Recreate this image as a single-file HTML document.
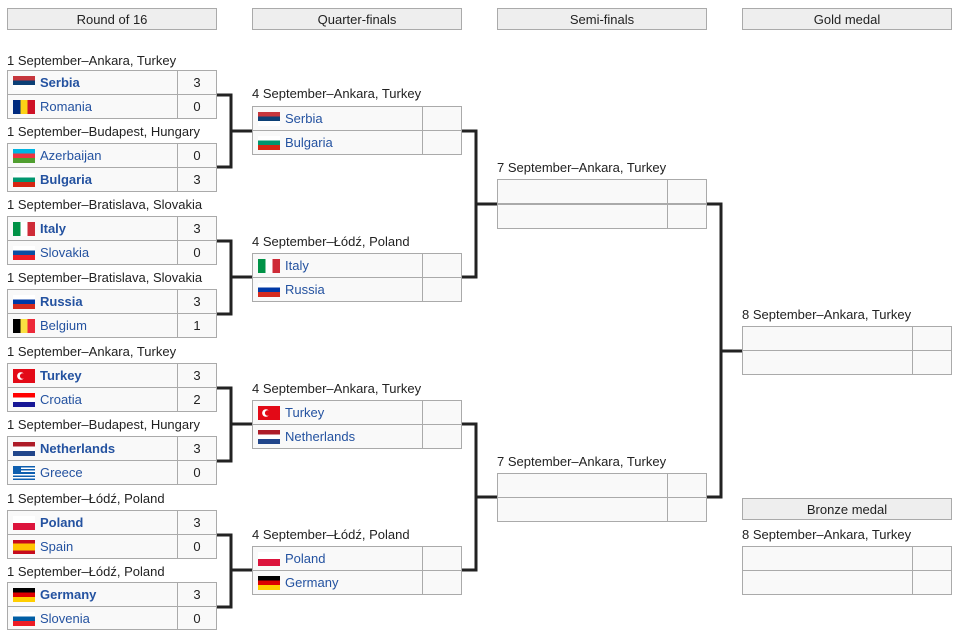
<!DOCTYPE html>
<html><head><meta charset="utf-8">
<style>
body{margin:0;width:960px;height:634px;background:#fff;font-family:"Liberation Sans",sans-serif;font-size:13px;color:#222;position:relative;overflow:hidden}
.h{position:absolute;top:8px;width:208px;height:20px;border:1px solid #aaa;background:#eee;text-align:center;line-height:21px;font-size:13px}
.l{position:absolute;font-size:13px;white-space:nowrap;line-height:15px}
.r{position:absolute;width:208px;height:23px;border:1px solid #aaa;background:#f9f9f9;line-height:24px;color:#2452a0}
.r .s{position:absolute;right:0;top:0;width:38px;height:23px;border-left:1px solid #aaa;text-align:center;color:#222;font-weight:normal}
.r .n{position:absolute;left:32px;top:0}
.r .f{position:absolute;left:5px;top:5px;width:22px;height:14px}
.b .n{font-weight:bold}
svg{position:absolute;left:0;top:0}
</style></head><body>
<div class="h" style="left:7px">Round of 16</div>
<div class="h" style="left:252px">Quarter-finals</div>
<div class="h" style="left:497px">Semi-finals</div>
<div class="h" style="left:742px">Gold medal</div>
<div class="h" style="left:742px;top:498px">Bronze medal</div>

<!-- R16 -->
<div class="l" style="left:7px;top:53px">1 September–Ankara, Turkey</div>
<div class="r b" style="left:7px;top:70px"><span class="f" style="background:linear-gradient(#c6363c 33%,#0c4076 33% 66%,#fff 66%)"></span><span class="n">Serbia</span><span class="s">3</span></div>
<div class="r" style="left:7px;top:94px"><span class="f" style="background:linear-gradient(90deg,#002b7f 33%,#fcd116 33% 66%,#ce1126 66%)"></span><span class="n">Romania</span><span class="s">0</span></div>

<div class="l" style="left:7px;top:124px">1 September–Budapest, Hungary</div>
<div class="r" style="left:7px;top:143px"><span class="f" style="background:linear-gradient(#00b5e2 33%,#ef3340 33% 66%,#509e2f 66%)"></span><span class="n">Azerbaijan</span><span class="s">0</span></div>
<div class="r b" style="left:7px;top:167px"><span class="f" style="background:linear-gradient(#fff 33%,#00966e 33% 66%,#d62612 66%)"></span><span class="n">Bulgaria</span><span class="s">3</span></div>

<div class="l" style="left:7px;top:197px">1 September–Bratislava, Slovakia</div>
<div class="r b" style="left:7px;top:216px"><span class="f" style="background:linear-gradient(90deg,#009246 33%,#fff 33% 66%,#ce2b37 66%)"></span><span class="n">Italy</span><span class="s">3</span></div>
<div class="r" style="left:7px;top:240px"><span class="f" style="background:linear-gradient(#fff 33%,#0b4ea2 33% 66%,#ee1c25 66%)"></span><span class="n">Slovakia</span><span class="s">0</span></div>

<div class="l" style="left:7px;top:270px">1 September–Bratislava, Slovakia</div>
<div class="r b" style="left:7px;top:289px"><span class="f" style="background:linear-gradient(#fff 33%,#0039a6 33% 66%,#d52b1e 66%)"></span><span class="n">Russia</span><span class="s">3</span></div>
<div class="r" style="left:7px;top:313px"><span class="f" style="background:linear-gradient(90deg,#000 33%,#fae042 33% 66%,#ed2939 66%)"></span><span class="n">Belgium</span><span class="s">1</span></div>

<div class="l" style="left:7px;top:344px">1 September–Ankara, Turkey</div>
<div class="r b" style="left:7px;top:363px"><span class="f" style="background:radial-gradient(circle at 44% 50%,#e30a17 0 2.5px,transparent 3px),radial-gradient(circle at 36% 50%,#fff 0 3.5px,transparent 4px),#e30a17"></span><span class="n">Turkey</span><span class="s">3</span></div>
<div class="r" style="left:7px;top:387px"><span class="f" style="background:linear-gradient(#ff0000 33%,#fff 33% 66%,#171796 66%)"></span><span class="n">Croatia</span><span class="s">2</span></div>

<div class="l" style="left:7px;top:417px">1 September–Budapest, Hungary</div>
<div class="r b" style="left:7px;top:436px"><span class="f" style="background:linear-gradient(#ae1c28 33%,#fff 33% 66%,#21468b 66%)"></span><span class="n">Netherlands</span><span class="s">3</span></div>
<div class="r" style="left:7px;top:460px"><span class="f" style="background:linear-gradient(90deg,#0d5eaf 8px,transparent 8px) 0 0/22px 8px no-repeat,repeating-linear-gradient(#0d5eaf 0 1.6px,#fff 1.6px 3.1px)"></span><span class="n">Greece</span><span class="s">0</span></div>

<div class="l" style="left:7px;top:491px">1 September–Łódź, Poland</div>
<div class="r b" style="left:7px;top:510px"><span class="f" style="background:linear-gradient(#fff 50%,#dc143c 50%)"></span><span class="n">Poland</span><span class="s">3</span></div>
<div class="r" style="left:7px;top:534px"><span class="f" style="background:linear-gradient(#c60b1e 25%,#ffc400 25% 75%,#c60b1e 75%)"></span><span class="n">Spain</span><span class="s">0</span></div>

<div class="l" style="left:7px;top:564px">1 September–Łódź, Poland</div>
<div class="r b" style="left:7px;top:582px"><span class="f" style="background:linear-gradient(#000 33%,#dd0000 33% 66%,#ffce00 66%)"></span><span class="n">Germany</span><span class="s">3</span></div>
<div class="r" style="left:7px;top:606px;height:22px"><span class="f" style="background:linear-gradient(#fff 33%,#005da4 33% 66%,#ed1c24 66%)"></span><span class="n">Slovenia</span><span class="s" style="height:22px">0</span></div>

<!-- QF -->
<div class="l" style="left:252px;top:86px">4 September–Ankara, Turkey</div>
<div class="r" style="left:252px;top:106px"><span class="f" style="background:linear-gradient(#c6363c 33%,#0c4076 33% 66%,#fff 66%)"></span><span class="n">Serbia</span><span class="s"></span></div>
<div class="r" style="left:252px;top:130px"><span class="f" style="background:linear-gradient(#fff 33%,#00966e 33% 66%,#d62612 66%)"></span><span class="n">Bulgaria</span><span class="s"></span></div>

<div class="l" style="left:252px;top:234px">4 September–Łódź, Poland</div>
<div class="r" style="left:252px;top:253px"><span class="f" style="background:linear-gradient(90deg,#009246 33%,#fff 33% 66%,#ce2b37 66%)"></span><span class="n">Italy</span><span class="s"></span></div>
<div class="r" style="left:252px;top:277px"><span class="f" style="background:linear-gradient(#fff 33%,#0039a6 33% 66%,#d52b1e 66%)"></span><span class="n">Russia</span><span class="s"></span></div>

<div class="l" style="left:252px;top:381px">4 September–Ankara, Turkey</div>
<div class="r" style="left:252px;top:400px"><span class="f" style="background:radial-gradient(circle at 44% 50%,#e30a17 0 2.5px,transparent 3px),radial-gradient(circle at 36% 50%,#fff 0 3.5px,transparent 4px),#e30a17"></span><span class="n">Turkey</span><span class="s"></span></div>
<div class="r" style="left:252px;top:424px"><span class="f" style="background:linear-gradient(#ae1c28 33%,#fff 33% 66%,#21468b 66%)"></span><span class="n">Netherlands</span><span class="s"></span></div>

<div class="l" style="left:252px;top:527px">4 September–Łódź, Poland</div>
<div class="r" style="left:252px;top:546px"><span class="f" style="background:linear-gradient(#fff 50%,#dc143c 50%)"></span><span class="n">Poland</span><span class="s"></span></div>
<div class="r" style="left:252px;top:570px"><span class="f" style="background:linear-gradient(#000 33%,#dd0000 33% 66%,#ffce00 66%)"></span><span class="n">Germany</span><span class="s"></span></div>

<!-- SF -->
<div class="l" style="left:497px;top:160px">7 September–Ankara, Turkey</div>
<div class="r" style="left:497px;top:179px"><span class="s"></span></div>
<div class="r" style="left:497px;top:204px"><span class="s"></span></div>
<div class="l" style="left:497px;top:454px">7 September–Ankara, Turkey</div>
<div class="r" style="left:497px;top:473px"><span class="s"></span></div>
<div class="r" style="left:497px;top:497px"><span class="s"></span></div>

<!-- Final -->
<div class="l" style="left:742px;top:307px">8 September–Ankara, Turkey</div>
<div class="r" style="left:742px;top:326px"><span class="s"></span></div>
<div class="r" style="left:742px;top:350px"><span class="s"></span></div>
<div class="l" style="left:742px;top:527px">8 September–Ankara, Turkey</div>
<div class="r" style="left:742px;top:546px"><span class="s"></span></div>
<div class="r" style="left:742px;top:570px"><span class="s"></span></div>

<svg width="960" height="634" fill="none" stroke="#222" stroke-width="3">
<path d="M217 95H231V167H217M231 131H252"/>
<path d="M217 241H231V314H217M231 277H252"/>
<path d="M217 388H231V461H217M231 424H252"/>
<path d="M217 535H231V607H217M231 570H252"/>
<path d="M462 131H476V277H462M476 204H497"/>
<path d="M462 424H476V570H462M476 497H497"/>
<path d="M707 204H721V497H707M721 351H742"/>
</svg>
</body></html>
